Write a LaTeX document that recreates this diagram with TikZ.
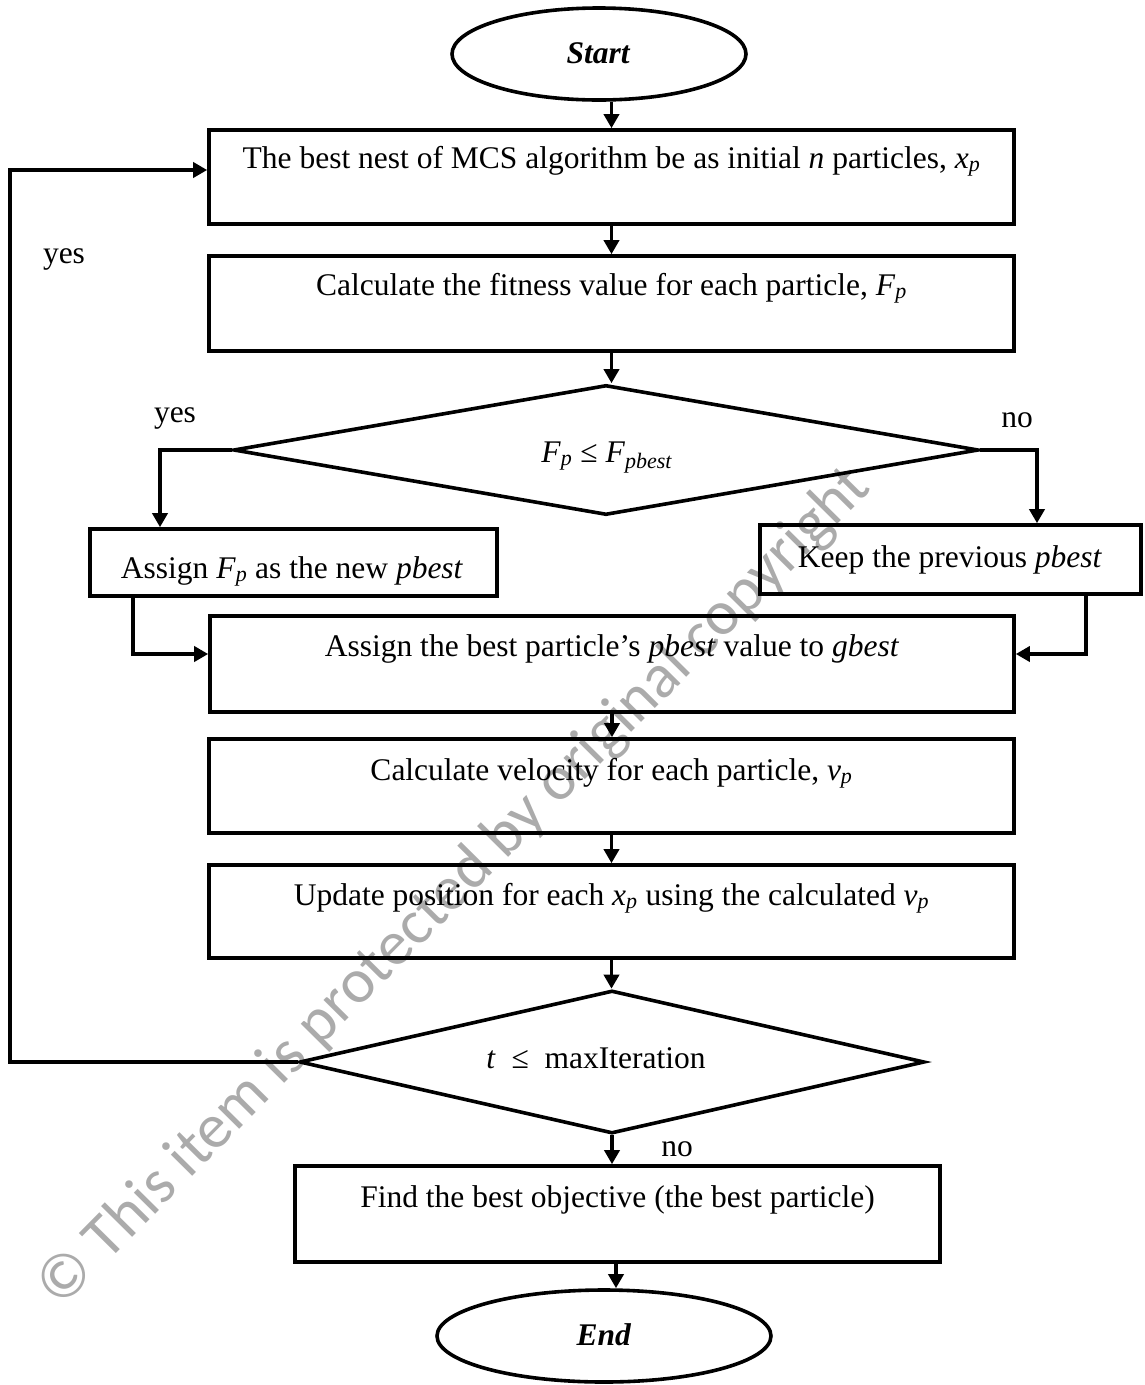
\documentclass[tikz,border=0pt]{standalone}
\usepackage{fontspec}
\setmainfont{Liberation Serif}
\newfontfamily\wmfont{Carlito}
\usetikzlibrary{arrows.meta,shapes.geometric,calc}

\newcommand{\sub}[2]{\textit{#1}\textsubscript{\textit{#2}}}

\begin{document}
\begin{tikzpicture}[x=1pt,y=-1pt,
  line width=3.6pt,
  every node/.style={font=\fontsize{31.5}{38}\selectfont},
  flowbox/.style={draw,rectangle,inner sep=0pt,line width=3.6pt},
  term/.style={draw,ellipse,inner sep=0pt,line width=3.6pt},
  decide/.style={draw,diamond,inner sep=0pt,line width=3.6pt},
  txt/.style={anchor=base,inner sep=0pt},
  arr/.style={-{Triangle[length=14pt,width=15pt]},line width=3.6pt},
  wm/.style={text=black!33,inner sep=0pt,font=\wmfont\fontsize{63}{70}\selectfont}
]
\useasboundingbox (0,0) rectangle (1144,1385);

% background notice
\node[wm,rotate=45.3] (notice) at (455,888) {© This item is protected by original copyright};

% terminals
\node[term,minimum width=294pt,minimum height=92pt] (st) at (599,54) {};
\node[txt] (stt) at (598.5,63) {\textbf{\textit{Start}}};
\node[term,minimum width=334pt,minimum height=92pt] (en) at (604,1336) {};
\node[txt] (ent) at (604,1345) {\textbf{\textit{End}}};

% process boxes
\node[flowbox,minimum width=805pt,minimum height=94pt] (b1) at (611.5,177) {};
\node[txt] (b1t) at (611.5,168) {The best nest of MCS algorithm be as initial \textit{n} particles, \sub{x}{p}};

\node[flowbox,minimum width=805pt,minimum height=95pt] (b2) at (611.5,303.5) {};
\node[txt] (b2t) at (611.5,295) {Calculate the fitness value for each particle, \sub{F}{p}};

\node[flowbox,minimum width=407pt,minimum height=67pt] (as) at (293.5,562.5) {};
\node[txt] (ast) at (292,578) {Assign \sub{F}{p} as the new \textit{pbest}};

\node[flowbox,minimum width=381pt,minimum height=69pt] (kp) at (950.5,559.5) {};
\node[txt] (kpt) at (950,567) {Keep the previous \textit{pbest}};

\node[flowbox,minimum width=804pt,minimum height=96pt] (gb) at (612,664) {};
\node[txt] (gbt) at (612,656) {Assign the best particle’s \textit{pbest} value to \textit{gbest}};

\node[flowbox,minimum width=805pt,minimum height=94pt] (vl) at (611.5,786) {};
\node[txt] (vlt) at (611.5,780) {Calculate velocity for each particle, \sub{v}{p}};

\node[flowbox,minimum width=805pt,minimum height=93pt] (up) at (611.5,911.5) {};
\node[txt] (upt) at (611.5,905) {Update position for each \sub{x}{p} using the calculated \sub{v}{p}};

\node[flowbox,minimum width=645pt,minimum height=96pt] (fd) at (617.5,1214) {};
\node[txt] (fdt) at (617.5,1207) {Find the best objective (the best particle)};

% decisions
\node[decide,minimum width=745pt,minimum height=130pt] (d1) at (606,450) {};
\node[txt] (d1t) at (607,462) {\sub{F}{p} ≤ \sub{F}{pbest}};

\node[decide,minimum width=625pt,minimum height=143pt] (d2) at (612,1062) {};
\node[txt] (d2t) at (596,1068) {\textit{t} \ ≤ \ maxIteration};

% branch labels
\node[txt] (y1) at (64,263) {yes};
\node[txt] (y2) at (175,422) {yes};
\node[txt] (n1) at (1017,427) {no};
\node[txt] (n2) at (677,1156) {no};

% connectors
\draw[arr] (st.south -| b1.north) -- (b1.north);
\draw[arr] (b1.south) -- (b2.north);
\draw[arr] (b2.south) -- (b2.south |- d1.north);
\draw[arr] (d1.west) -| (160,0 |- as.north);
\draw[arr] (d1.east) -| (1037,0 |- kp.north);
\draw[arr] (133,0 |- as.south) |- (gb.west |- 0,654);
\draw[arr] (1086,0 |- kp.south) |- (gb.east |- 0,654);
\draw[arr] (gb.south) -- (gb.south |- vl.north);
\draw[arr] (vl.south) -- (up.north);
\draw[arr] (up.south) -- (up.south |- d2.north);
\draw[arr] (d2.west) -- (10,0 |- d2.west) |- (b1.west |- 0,170);
\draw[arr] (d2.south) -- (d2.south |- fd.north);
\draw[arr] (616,0 |- fd.south) -- (616,0 |- en.north);
\end{tikzpicture}
\end{document}
